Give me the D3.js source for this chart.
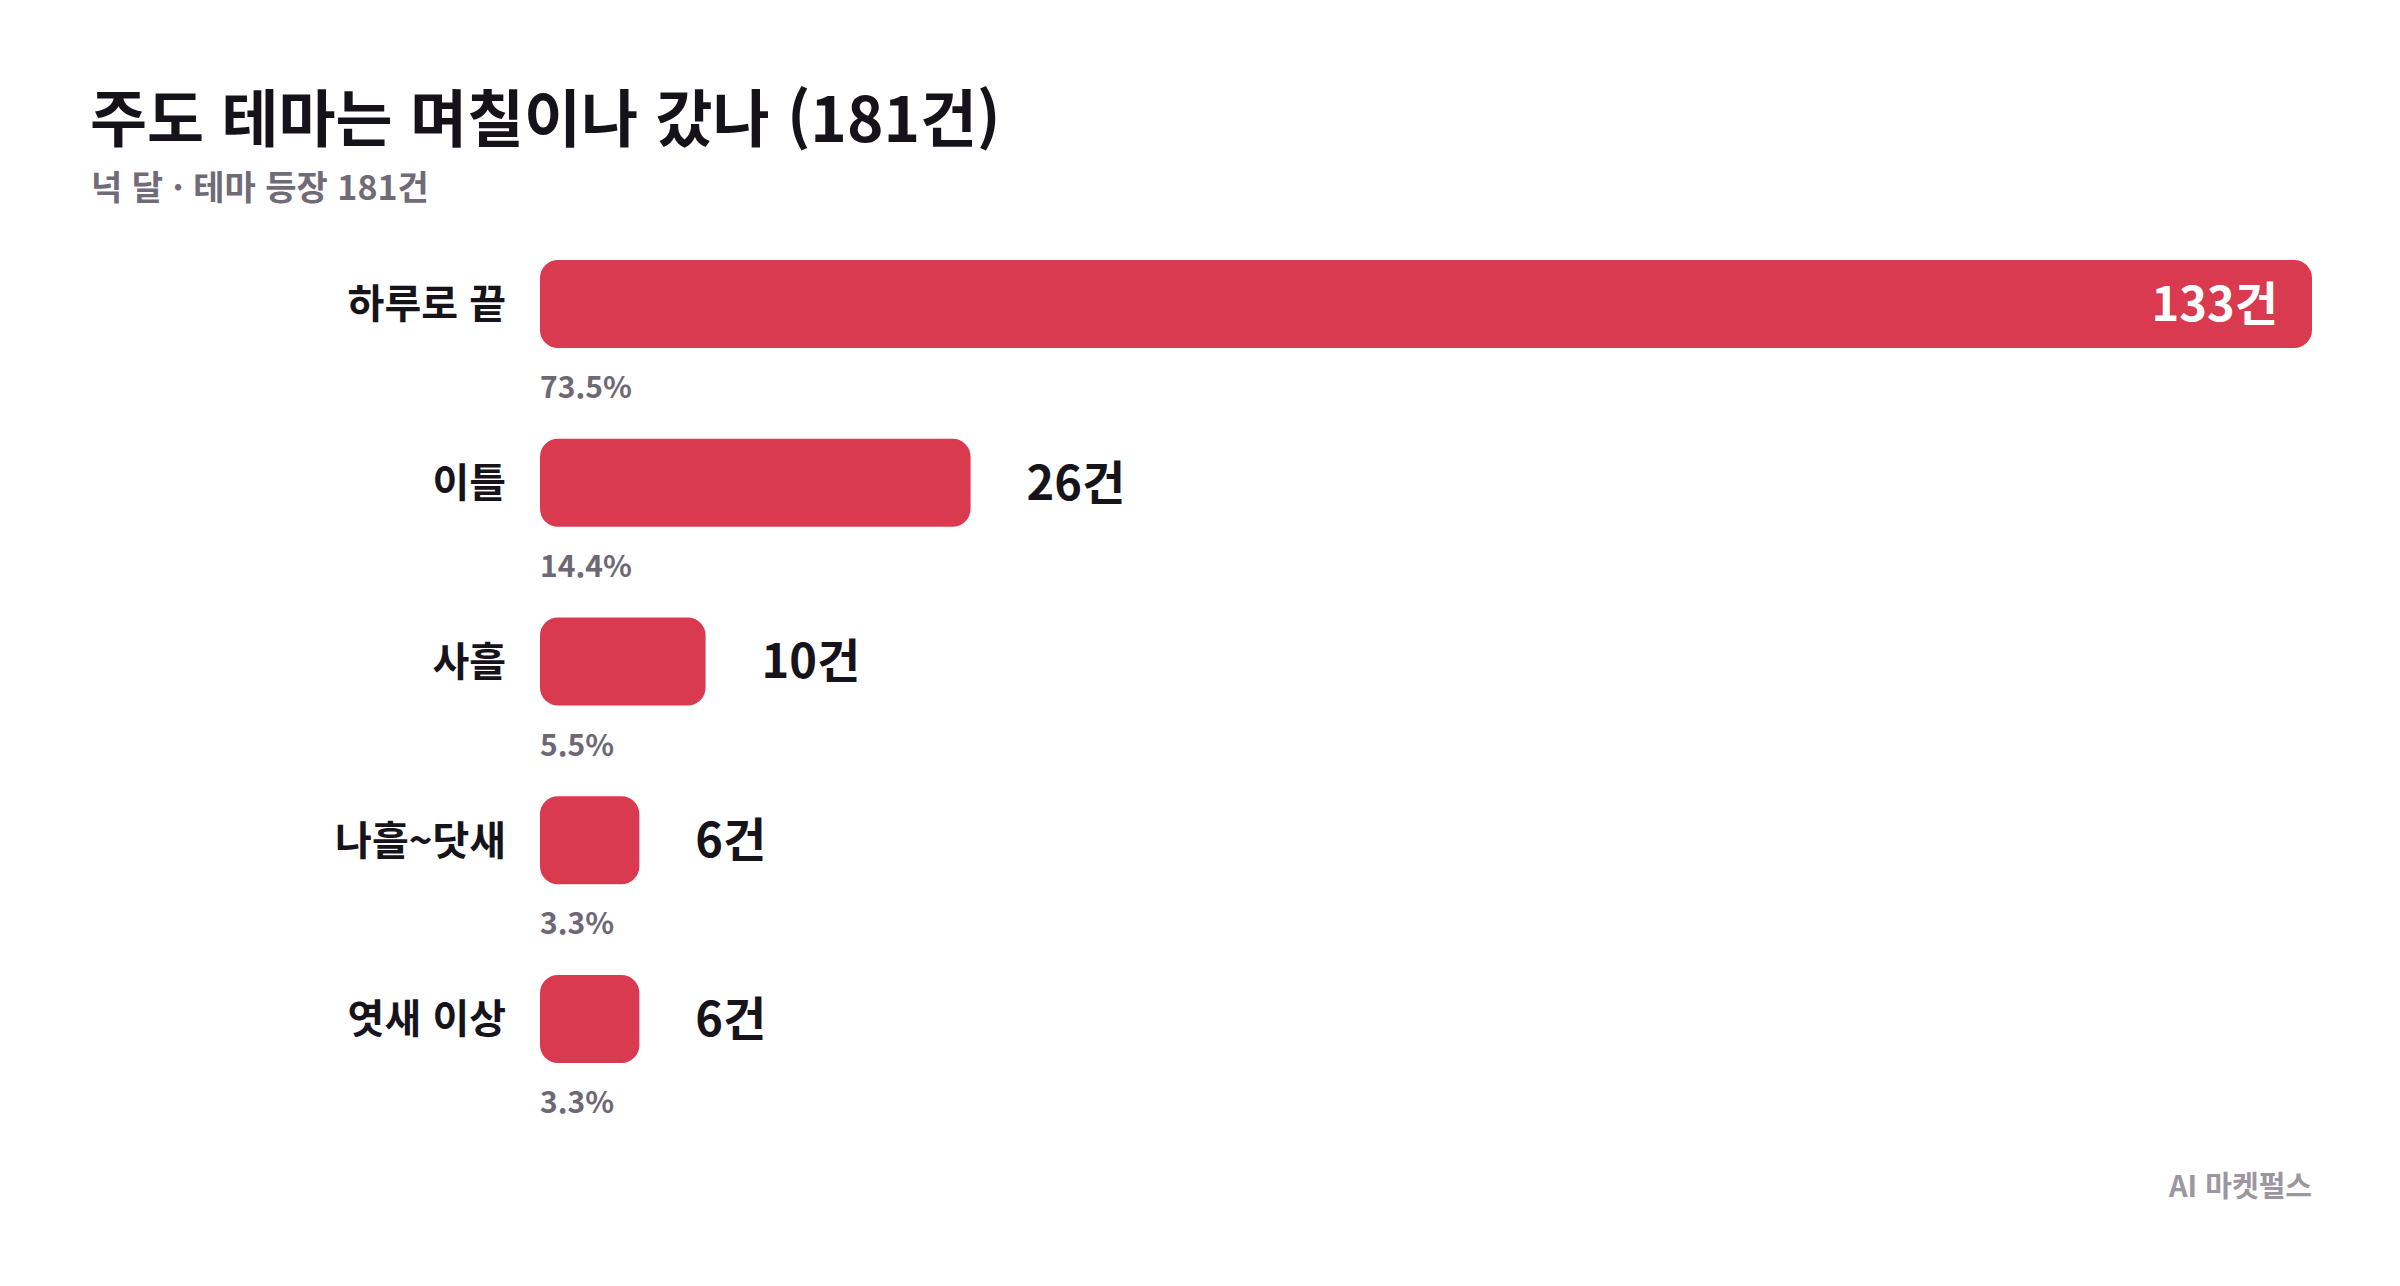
<!DOCTYPE html>
<html lang="ko">
<head>
<meta charset="utf-8">
<title>주도 테마는 며칠이나 갔나</title>
<script src="https://d3js.org/d3.v7.min.js"></script>
<style>
  body { margin: 0; background: #fff; }
  text { font-family: "Noto Sans CJK KR", "Noto Sans", sans-serif; }
</style>
</head>
<body>
<div id="chart"></div>
<script>
// data
var categories = ["하루로 끝", "이틀", "사흘", "나흘~닷새", "엿새 이상"]
var counts = [133, 26, 10, 6, 6]
var shares = ["73.5%", "14.4%", "5.5%", "3.3%", "3.3%"]
var titleText = "주도 테마는 며칠이나 갔나 (181건)"
var subtitleText = "넉 달 · 테마 등장 181건"
var sourceText = "AI 마켓펄스"

var w = 2400
var h = 1286
var barColor = "#d93a4f"

var svg = d3.select("#chart")
  .append("svg")
  .attr("width", w)
  .attr("height", h)

svg.append("rect").attr("width", w).attr("height", h).attr("fill", "#fff")

svg.append("text")
  .attr("x", 90).attr("y", 142)
  .attr("font-size", 62).attr("font-weight", 700)
  .attr("fill", "#15121a")
  .text(titleText)

svg.append("text")
  .attr("x", 91).attr("y", 200)
  .attr("font-size", 34).attr("font-weight", 700)
  .attr("fill", "#716b78")
  .text(subtitleText)

// the longest bar runs off the scale and gets clamped at the right edge
var xScale = d3.scaleLinear()
  .domain([0, 107])
  .range([540, 2312])
  .clamp(true)

var barH = 88
var step = 178.75
var yScale = d3.scaleBand()
  .domain(categories)
  .range([260, 260 + step * (categories.length - 1) + barH])
  .paddingInner(1 - barH / step)
  .paddingOuter(0)

var rows = categories.map(function(c, i) {
  return { cat: c, n: counts[i], pct: shares[i] }
})

var row = svg.selectAll("g.row")
  .data(rows)
  .enter()
  .append("g")
  .attr("class", "row")
  .attr("transform", function(d) { return "translate(0," + yScale(d.cat) + ")" })

row.append("rect")
  .attr("x", xScale(0))
  .attr("y", 0)
  .attr("width", function(d) { return xScale(d.n) - xScale(0) })
  .attr("height", yScale.bandwidth())
  .attr("rx", 18)
  .attr("fill", barColor)

row.append("text")
  .attr("x", xScale(0) - 34)
  .attr("y", barH / 2)
  .attr("dy", "0.36em")
  .attr("text-anchor", "end")
  .attr("font-size", 40).attr("font-weight", 700)
  .attr("fill", "#16131b")
  .text(function(d) { return d.cat })

function inside(d) { return xScale(d.n) - xScale(0) > 600 }

row.append("text")
  .attr("x", function(d) { return inside(d) ? xScale(d.n) - 34 : xScale(d.n) + 56 })
  .attr("y", barH / 2)
  .attr("dy", "0.36em")
  .attr("text-anchor", function(d) { return inside(d) ? "end" : "start" })
  .attr("font-size", 47).attr("font-weight", 700)
  .attr("fill", function(d) { return inside(d) ? "#fff" : "#16131b" })
  .text(function(d) { return d.n + "건" })

row.append("text")
  .attr("x", xScale(0))
  .attr("y", barH + 50)
  .attr("font-size", 30).attr("font-weight", 700)
  .attr("fill", "#6e6875")
  .text(function(d) { return d.pct })

svg.append("text")
  .attr("x", 2312).attr("y", 1197)
  .attr("text-anchor", "end")
  .attr("font-size", 29).attr("font-weight", 700)
  .attr("fill", "#9c96a0")
  .text(sourceText)
</script>
</body>
</html>
